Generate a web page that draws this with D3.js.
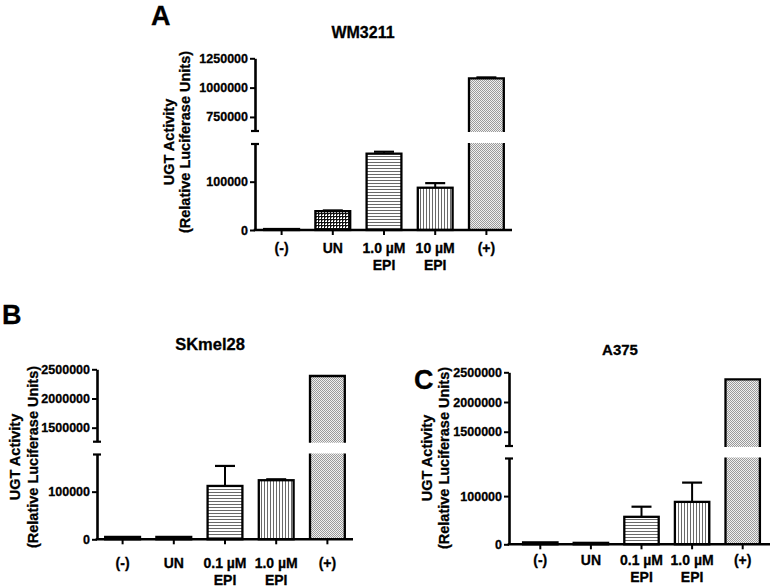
<!DOCTYPE html>
<html><head><meta charset="utf-8">
<script src="https://cdn.jsdelivr.net/npm/d3@7"></script>
<style>
body{margin:0;background:#fff}
svg{display:block}
text{font-family:"Liberation Sans",Arial,Helvetica,sans-serif;font-weight:bold;fill:#000;stroke:#000;stroke-width:0.3px}
</style>
</head><body>
<svg id="chart" width="773" height="587"></svg>
<script>
// ---------------- data ----------------
const categoriesA = ["(-)", "UN", "1.0 \u00b5M|EPI", "10 \u00b5M|EPI", "(+)"];
const valuesA = [2000, 39000, 158000, 87500, 1078000];
const errorsA = [0, 1500, 4000, 9500, 9000];

const categoriesB = ["(-)", "UN", "0.1 \u00b5M|EPI", "1.0 \u00b5M|EPI", "(+)"];
const valuesB = [5000, 5000, 112000, 124000, 2385000];
const errorsB = [0, 0, 42000, 2000, 0];

const categoriesC = ["(-)", "UN", "0.1 \u00b5M|EPI", "1.0 \u00b5M|EPI", "(+)"];
const valuesC = [4000, 3000, 57000, 88000, 2380000];
const errorsC = [0, 0, 21000, 40000, 0];

const lowerTicks = [0, 100000];
const upperTicksA = [750000, 1000000, 1250000];
const upperTicksBC = [1500000, 2000000, 2500000];
const lowerDomain = [0, 178000];
const upperDomainA = [630000, 1250000];
const upperDomainBC = [1260000, 2500000];

// ---------------- styles / layout ----------------
const patternsA = ["p-dots", "p-check", "p-hlines", "p-vlines", "p-dots"];
const patternsBC = ["p-dots", "p-dots", "p-hlines", "p-vlines", "p-dots"];

const svg = d3.select("#chart");
const defs = svg.append("defs");

// checkered
const pc = defs.append("pattern").attr("id", "p-check").attr("patternUnits", "userSpaceOnUse").attr("width", 3).attr("height", 3);
pc.append("rect").attr("width", 3).attr("height", 3).attr("fill", "#fff");
pc.append("rect").attr("width", 3).attr("height", 1).attr("fill", "#111");
pc.append("rect").attr("width", 1).attr("height", 3).attr("fill", "#111");
pc.append("rect").attr("x", 1).attr("y", 1).attr("width", 1).attr("height", 1).attr("fill", "#777");
// horizontal lines
const ph = defs.append("pattern").attr("id", "p-hlines").attr("patternUnits", "userSpaceOnUse").attr("width", 4).attr("height", 3);
ph.append("rect").attr("width", 4).attr("height", 3).attr("fill", "#fff");
ph.append("rect").attr("width", 4).attr("height", 1).attr("fill", "#6a6a6a");
// vertical lines
const pv = defs.append("pattern").attr("id", "p-vlines").attr("patternUnits", "userSpaceOnUse").attr("width", 3).attr("height", 4);
pv.append("rect").attr("width", 3).attr("height", 4).attr("fill", "#fff");
pv.append("rect").attr("width", 1).attr("height", 4).attr("fill", "#6a6a6a");
// fine dots (light gray halftone)
const pd = defs.append("pattern").attr("id", "p-dots").attr("patternUnits", "userSpaceOnUse").attr("width", 2).attr("height", 2);
pd.append("rect").attr("width", 2).attr("height", 2).attr("fill", "#f0f0f0");
pd.append("rect").attr("width", 1).attr("height", 1).attr("fill", "#9a9a9a");
pd.append("rect").attr("x", 1).attr("y", 1).attr("width", 1).attr("height", 1).attr("fill", "#9a9a9a");

const fmt = d3.format("d");

function drawPanel(cfg) {
  const g = svg.append("g");
  const x = d3.scaleBand().domain(cfg.categories).range(cfg.bandRange).paddingInner(0.32).paddingOuter(0.16);
  const yLow = d3.scaleLinear().domain(lowerDomain).range([cfg.y0, cfg.lowerTop]);
  const yUp = d3.scaleLinear().domain(cfg.upperDomain).range([cfg.upperBottom, cfg.upperTop]);

  // panel letter + title
  g.append("text").attr("x", cfg.letterX).attr("y", cfg.letterY).attr("font-size", 27).text(cfg.letter);
  g.append("text").attr("x", cfg.titleX).attr("y", cfg.titleY).attr("text-anchor", "middle").attr("font-size", cfg.titleSize).text(cfg.title);

  // bars
  cfg.categories.forEach((c, i) => {
    const v = cfg.values[i], e = cfg.errors[i];
    const x0 = x(c), w = x.bandwidth(), x1 = x0 + w, cx = x0 + w / 2;
    const fill = "url(#" + cfg.patterns[i] + ")";
    let topY;
    if (v <= lowerDomain[1]) {
      topY = yLow(v);
      g.append("rect").attr("x", x0).attr("y", topY).attr("width", w).attr("height", Math.max(0, cfg.y0 - topY))
        .attr("fill", fill).attr("stroke", "#000").attr("stroke-width", 2.3);
    } else {
      topY = yUp(v);
      g.append("rect").attr("x", x0).attr("y", topY).attr("width", w).attr("height", cfg.upperBottom + 1 - topY).attr("fill", fill);
      g.append("rect").attr("x", x0).attr("y", cfg.lowerTop - 1).attr("width", w).attr("height", cfg.y0 - cfg.lowerTop + 1).attr("fill", fill);
      g.append("path")
        .attr("d", `M${x0},${cfg.upperBottom + 1}V${topY}H${x1}V${cfg.upperBottom + 1}M${x0},${cfg.lowerTop - 1}V${cfg.y0}M${x1},${cfg.lowerTop - 1}V${cfg.y0}`)
        .attr("fill", "none").attr("stroke", "#000").attr("stroke-width", 2.3);
    }
    if (e > 0) {
      const ey = v + e <= lowerDomain[1] ? yLow(v + e) : yUp(v + e);
      g.append("line").attr("x1", cx).attr("x2", cx).attr("y1", topY).attr("y2", ey).attr("stroke", "#000").attr("stroke-width", 2);
      g.append("line").attr("x1", cx - 10).attr("x2", cx + 10).attr("y1", ey).attr("y2", ey).attr("stroke", "#000").attr("stroke-width", 2.2);
    }
  });

  // y axes (two segments)
  const axLow = g.append("g").attr("transform", `translate(${cfg.axisX},0)`)
    .call(d3.axisLeft(yLow).tickValues(lowerTicks).tickFormat(fmt).tickSize(5).tickSizeOuter(0).tickPadding(2));
  const axUp = g.append("g").attr("transform", `translate(${cfg.axisX},0)`)
    .call(d3.axisLeft(yUp).tickValues(cfg.upperTicks).tickFormat(fmt).tickSize(5).tickSizeOuter(0).tickPadding(2));
  [axLow, axUp].forEach(a => {
    a.select(".domain").attr("stroke", "#000").attr("stroke-width", 2.6);
    a.selectAll(".tick line").attr("stroke", "#000").attr("stroke-width", 2);
    a.selectAll(".tick text").attr("font-size", 12.5).attr("font-family", null).attr("fill", "#000");
  });
  // break caps
  [cfg.upperBottom, cfg.lowerTop].forEach(yy => {
    g.append("line").attr("x1", cfg.axisX - 4).attr("x2", cfg.axisX + 4).attr("y1", yy).attr("y2", yy)
      .attr("stroke", "#000").attr("stroke-width", 2.2);
  });

  // x axis
  g.append("line").attr("x1", cfg.axisX - 1.3).attr("x2", cfg.xEnd).attr("y1", cfg.y0).attr("y2", cfg.y0)
    .attr("stroke", "#000").attr("stroke-width", 2.6);
  cfg.categories.forEach(c => {
    const cx = x(c) + x.bandwidth() / 2;
    g.append("line").attr("x1", cx).attr("x2", cx).attr("y1", cfg.y0).attr("y2", cfg.y0 + 5).attr("stroke", "#000").attr("stroke-width", 2);
    const lines = c.split("|");
    lines.forEach((t, k) => {
      g.append("text").attr("x", cx).attr("y", cfg.xlabY + k * 16.5).attr("text-anchor", "middle").attr("font-size", 14).text(t);
    });
  });

  // y label
  const yl = g.append("g").attr("transform", `translate(0,${cfg.ylabY})`);
  ["UGT Activity", "(Relative Luciferase Units)"].forEach((t, k) => {
    yl.append("text").attr("transform", `translate(${cfg.ylabX[k]},0) rotate(-90)`)
      .attr("text-anchor", "middle").attr("dominant-baseline", "central").attr("font-size", 14.5).text(t);
  });
}

drawPanel({
  categories: categoriesA, values: valuesA, errors: errorsA, patterns: patternsA,
  upperDomain: upperDomainA, upperTicks: upperTicksA,
  letter: "A", letterX: 151, letterY: 25, title: "WM3211", titleSize: 16, titleX: 363, titleY: 38,
  axisX: 255, xEnd: 512, bandRange: [256, 512], y0: 230, lowerTop: 144, upperBottom: 131, upperTop: 58.3,
  ylabX: [169, 185], ylabY: 142, xlabY: 253
});
drawPanel({
  categories: categoriesB, values: valuesB, errors: errorsB, patterns: patternsBC,
  upperDomain: upperDomainBC, upperTicks: upperTicksBC,
  letter: "B", letterX: 2, letterY: 324, title: "SKmel28", titleSize: 16.5, titleX: 210, titleY: 350,
  axisX: 97, xEnd: 353, bandRange: [97, 353], y0: 539.3, lowerTop: 454.5, upperBottom: 441.7, upperTop: 369.3,
  ylabX: [15, 33], ylabY: 457, xlabY: 568
});
drawPanel({
  categories: categoriesC, values: valuesC, errors: errorsC, patterns: patternsBC,
  upperDomain: upperDomainBC, upperTicks: upperTicksBC,
  letter: "C", letterX: 414, letterY: 389, title: "A375", titleSize: 15, titleX: 620, titleY: 355,
  axisX: 509, xEnd: 770, bandRange: [515, 768], y0: 544.3, lowerTop: 458.5, upperBottom: 446, upperTop: 372.3,
  ylabX: [427, 444], ylabY: 458, xlabY: 565
});
</script>
</body></html>
